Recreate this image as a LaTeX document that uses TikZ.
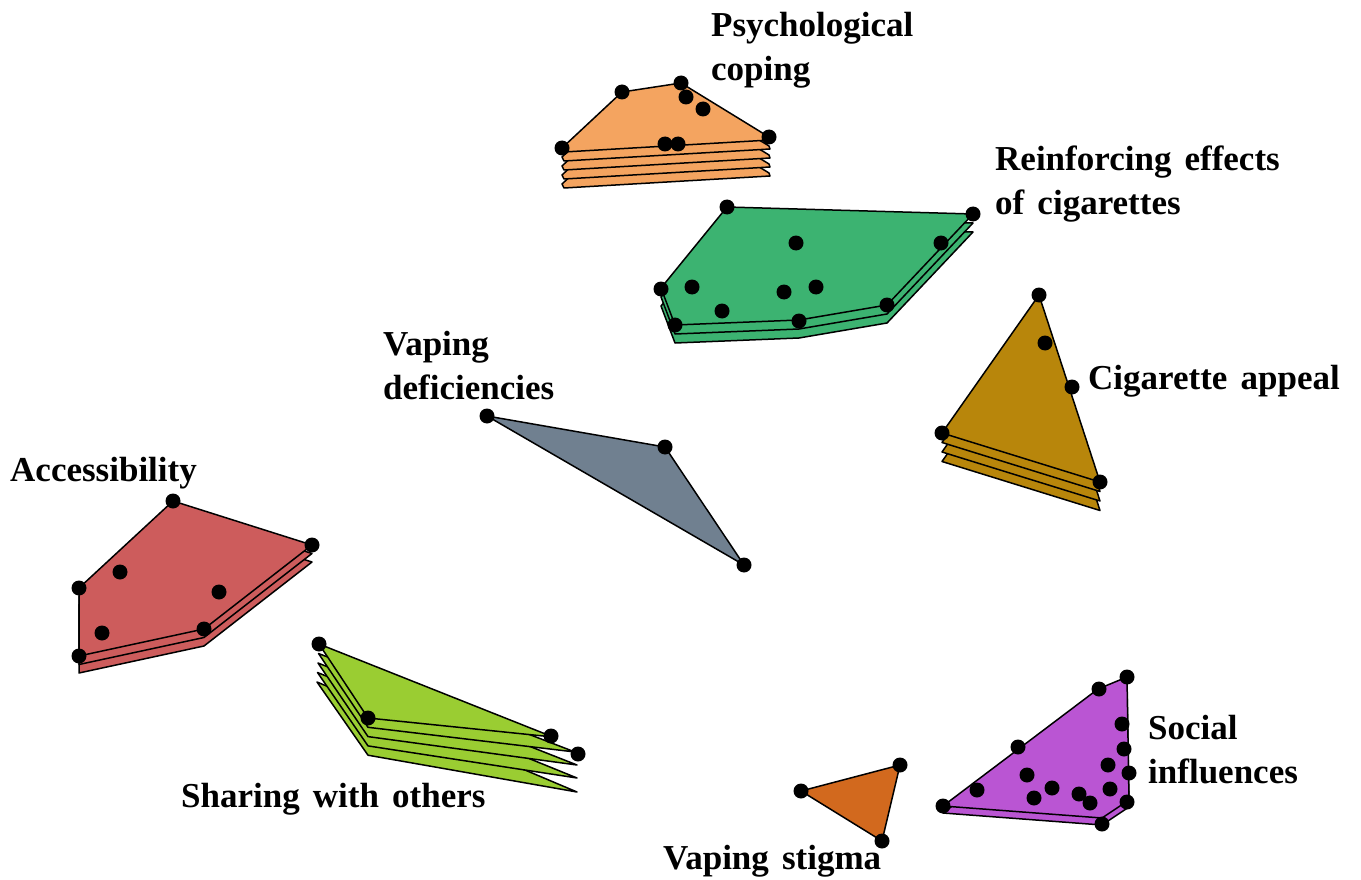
\documentclass[tikz,border=0pt]{standalone}
\usepackage{fontspec}
\setmainfont{Liberation Serif}[WordSpace=1.5]
\usepackage{xcolor}
\usepackage{tikz}

\definecolor{copingcol}{RGB}{244,164,96}
\definecolor{reinforcecol}{RGB}{60,179,113}
\definecolor{appealcol}{RGB}{184,134,11}
\definecolor{deficiencycol}{RGB}{112,128,144}
\definecolor{accesscol}{RGB}{205,92,92}
\definecolor{sharingcol}{RGB}{154,205,50}
\definecolor{socialcol}{RGB}{186,85,211}
\definecolor{stigmacol}{RGB}{210,105,30}

\begin{document}
\begin{tikzpicture}[
  x=1pt, y=-1pt,
  poly/.style={draw=black, line width=1.5pt, line join=round},
  vertex/.style={fill=black},
  clustertext/.style={anchor=north west, inner sep=0pt, align=left,
                      font=\bfseries\fontsize{35}{44}\selectfont},
]
\useasboundingbox (0,0) rectangle (1361,880);

% Psychological coping
\foreach \k in {4,3,2,1,0}
  \filldraw[poly, fill=copingcol, shift={(0,9*\k)}]
    (562,148) -- (622,92) -- (681,83) -- (769,137) -- (770,140) -- (564,152) -- cycle;
\foreach \x/\y in {562/148, 622/92, 681/83, 686/97, 703/109, 769/137, 665/144, 678/144}
  \fill[vertex] (\x,\y) circle[radius=7.5pt];
\node[clustertext] (coping) at (711,12) {Psychological\\coping};

% Reinforcing effects of cigarettes
\foreach \k in {2,1,0}
  \filldraw[poly, fill=reinforcecol, shift={(0,9*\k)}]
    (727,207) -- (973,214) -- (887,305) -- (799,320) -- (675,325) -- (661,288) -- cycle;
\foreach \x/\y in {727/207, 973/214, 941/243, 796/243, 661/289, 692/287, 784/292,
                   816/287, 722/311, 675/325, 799/321, 887/305}
  \fill[vertex] (\x,\y) circle[radius=7.5pt];
\node[clustertext] (reinforce) at (995,146) {Reinforcing effects\\of cigarettes};

% Cigarette appeal
\foreach \k in {3,2,1,0}
  \filldraw[poly, fill=appealcol, shift={(0,9.5*\k)}]
    (1039,295) -- (1100,482) -- (942,433) -- cycle;
\foreach \x/\y in {1039/295, 1045/343, 1072/387, 942/433, 1100/482}
  \fill[vertex] (\x,\y) circle[radius=7.5pt];
\node[clustertext] (appeal) at (1088,365) {Cigarette appeal};

% Vaping deficiencies
\filldraw[poly, fill=deficiencycol] (487,416) -- (665,447) -- (744,565) -- cycle;
\foreach \x/\y in {487/416, 665/447, 744/565}
  \fill[vertex] (\x,\y) circle[radius=7.5pt];
\node[clustertext] (deficiency) at (383,331) {Vaping\\deficiencies};

% Accessibility
\foreach \k in {2,1,0}
  \filldraw[poly, fill=accesscol, shift={(0,8.5*\k)}]
    (173,501) -- (312,545) -- (204,629) -- (79,656) -- (79,588) -- cycle;
\foreach \x/\y in {173/501, 312/545, 79/588, 120/572, 219/592, 102/633, 204/629, 79/656}
  \fill[vertex] (\x,\y) circle[radius=7.5pt];
\node[clustertext] (access) at (10,457) {Accessibility};

% Sharing with others
\foreach \k/\cx/\cy in {4/577/792, 3/577/778, 2/577/765, 1/575/752, 0/553/737}
  \filldraw[poly, fill=sharingcol]
    (319-0.5*\k,644+9.5*\k) -- (368,718+9.3*\k) -- (\cx,\cy) -- cycle;
\foreach \x/\y in {319/644, 368/718, 551/736, 578/754}
  \fill[vertex] (\x,\y) circle[radius=7.5pt];
\node[clustertext] (sharing) at (181,783) {Sharing with others};

% Social influences
\foreach \k in {1,0}
  \filldraw[poly, fill=socialcol, shift={(0,7*\k)}]
    (943,806) -- (1098,689) -- (1127,677) -- (1129,800) -- (1102,818) -- cycle;
\foreach \x/\y in {1127/677, 1099/689, 1122/724, 1124/749, 1018/747, 1108/765, 1129/773,
                   1027/775, 977/790, 1052/788, 1110/789, 1034/798, 1079/794, 1090/803,
                   1127/802, 943/806, 1102/824}
  \fill[vertex] (\x,\y) circle[radius=7.5pt];
\node[clustertext] (social) at (1148,715) {Social\\influences};

% Vaping stigma
\filldraw[poly, fill=stigmacol] (801,791) -- (900,765) -- (882,841) -- cycle;
\foreach \x/\y in {801/791, 900/765, 882/841}
  \fill[vertex] (\x,\y) circle[radius=7.5pt];
\node[clustertext] (stigma) at (663,845) {Vaping stigma};

\end{tikzpicture}
\end{document}
